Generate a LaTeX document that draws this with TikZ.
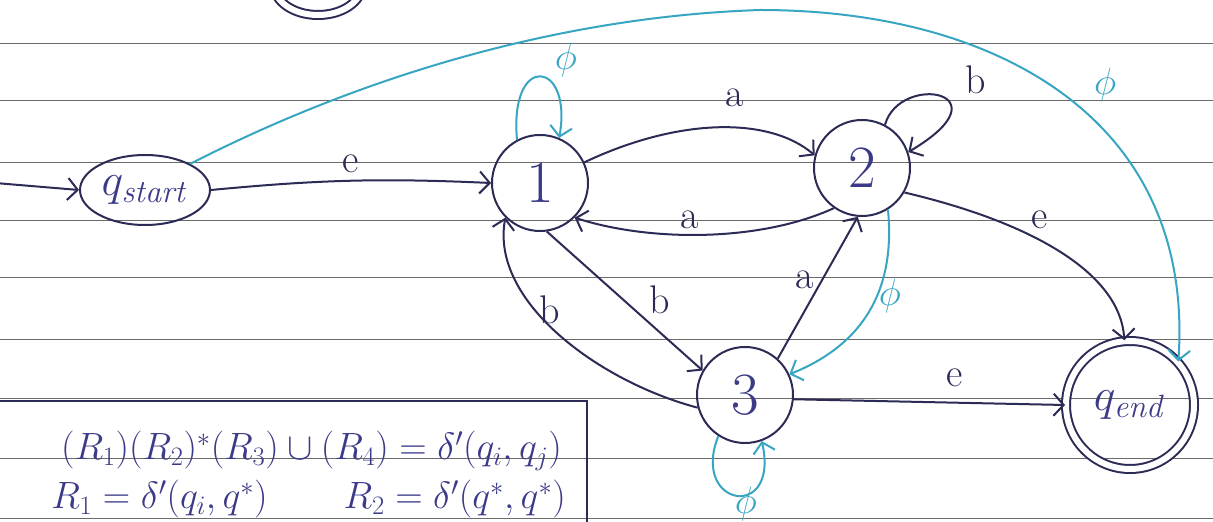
\documentclass[tikz,border=0pt]{standalone}
\usepackage{fix-cm}
\usepackage{amsmath}
\usepackage{tikz}
\usetikzlibrary{arrows.meta,shapes.geometric}

\definecolor{inkc}{HTML}{2B2B55}
\definecolor{digitc}{HTML}{3A3A88}
\definecolor{cyanc}{HTML}{38A6C2}
\definecolor{rulec}{HTML}{6A6A6A}

\begin{document}
\begin{tikzpicture}[
  x=1pt, y=1pt,
  ink/.style={draw=inkc, line width=2pt},
  state/.style={circle, ink, minimum size=96pt, inner sep=0pt,
                font=\fontsize{60}{60}\selectfont, text=digitc},
  accept/.style={state, minimum size=128pt, double=white, double distance=6pt,
                 font=\fontsize{46}{46}\selectfont},
  startstate/.style={ellipse, ink, minimum width=130pt, minimum height=70pt, inner sep=0pt,
                     font=\fontsize{46}{46}\selectfont, text=digitc},
  arr/.style={-{Straight Barb[length=10pt,width=22pt]}, ink},
  eps/.style={arr, draw=cyanc},
  lbl/.style={font=\fontsize{40}{40}\selectfont, text=inkc},
  epslbl/.style={font=\fontsize{38}{38}\selectfont, text=cyanc},
  rule/.style={draw=rulec, line width=0.9pt},
  eqtext/.style={font=\fontsize{38}{38}\selectfont, text=digitc, inner sep=0pt}
]
\clip (0,0) rectangle (1213,522);
\fill[white] (0,0) rectangle (1213,522);

% ruled paper
\foreach \yy in {479,422,360,302,245,183,124,64,4}
  \draw[rule] (0,\yy) -- (1213,\yy);

% states
\node[startstate] (qs) at (145,332) {$q_{\mathit{start}}$};
\node[state] (n1) at (540,339) {1};
\node[state] (n2) at (862,354) {2};
\node[state] (n3) at (745,127) {3};
\node[accept] (qe) at (1130,117) {$q_{\mathit{end}}$};
\node[ellipse, ink, double=white, double distance=6pt, minimum width=88pt,
      minimum height=60pt] (qtop) at (318,537) {};

% formula box, cut by the page edge
\node[draw=inkc, line width=2.2pt, anchor=north east, minimum width=640pt,
      minimum height=160pt] (eqbox) at (588,122) {};
\node[eqtext, anchor=base east] (eq1) at (562,62)
  {$(R_1)(R_2)^*(R_3)\cup(R_4) = \delta'(q_i, q_j)$};
\node[eqtext, anchor=base east] (eq2) at (566,13)
  {$R_1 = \delta'(q_i, q^*)\qquad R_2 = \delta'(q^*, q^*)$};

% transitions
\coordinate (in) at (-5,339);
\draw[arr] (in) -- (qs.west);
\draw[arr] (qs.east) to[bend left=4] node[lbl, above=4pt] {e} (n1.west);
\draw[eps] (qs.30) .. controls (350,440) and (550,505) .. (760,512)
  .. controls (1000,512) and (1195,400) .. (qe.42);
\node[epslbl] (phitop) at (1105,437) {$\phi$};

\draw[eps] (n1.118) .. controls +(-8,88) and +(14,78) .. (n1.67);
\node[epslbl] (phi1) at (566,462) {$\phi$};

\draw[arr] (n1.25) .. controls (680,405) and (770,405) .. (n2.165);
\node[lbl] (a12) at (735,424) {a};
\draw[arr] (n2.235) .. controls (760,280) and (650,280) .. (n1.-45);
\node[lbl] (a21) at (690,302) {a};

\draw[arr] (n2.62) .. controls (900,450) and (1010,430) .. (n2.19);
\node[lbl] (b22) at (976,442) {b};

\draw[arr] (n1.-82) -- (n3.150);
\node[lbl] (b13) at (660,222) {b};
\draw[arr] (n3.195) .. controls (600,140) and (490,220) .. (n1.225);
\node[lbl] (b31) at (550,212) {b};

\draw[arr] (n3.48) -- (n2.-95);
\node[lbl] (a32) at (805,242) {a};
\draw[eps] (n2.-58) .. controls (895,240) and (870,180) .. (n3.25);
\node[epslbl] (phi23) at (890,226) {$\phi$};

\draw[arr] (n2.-30) .. controls (1030,300) and (1120,250) .. (qe.95);
\node[lbl] (e2e) at (1040,302) {e};
\draw[arr] (n3.-5) -- (qe.west);
\node[lbl] (e3e) at (955,144) {e};

\draw[eps] (n3.237) .. controls (690,15) and (780,0) .. (n3.290);
\node[epslbl] (phi3) at (746,18) {$\phi$};
\end{tikzpicture}
\end{document}
